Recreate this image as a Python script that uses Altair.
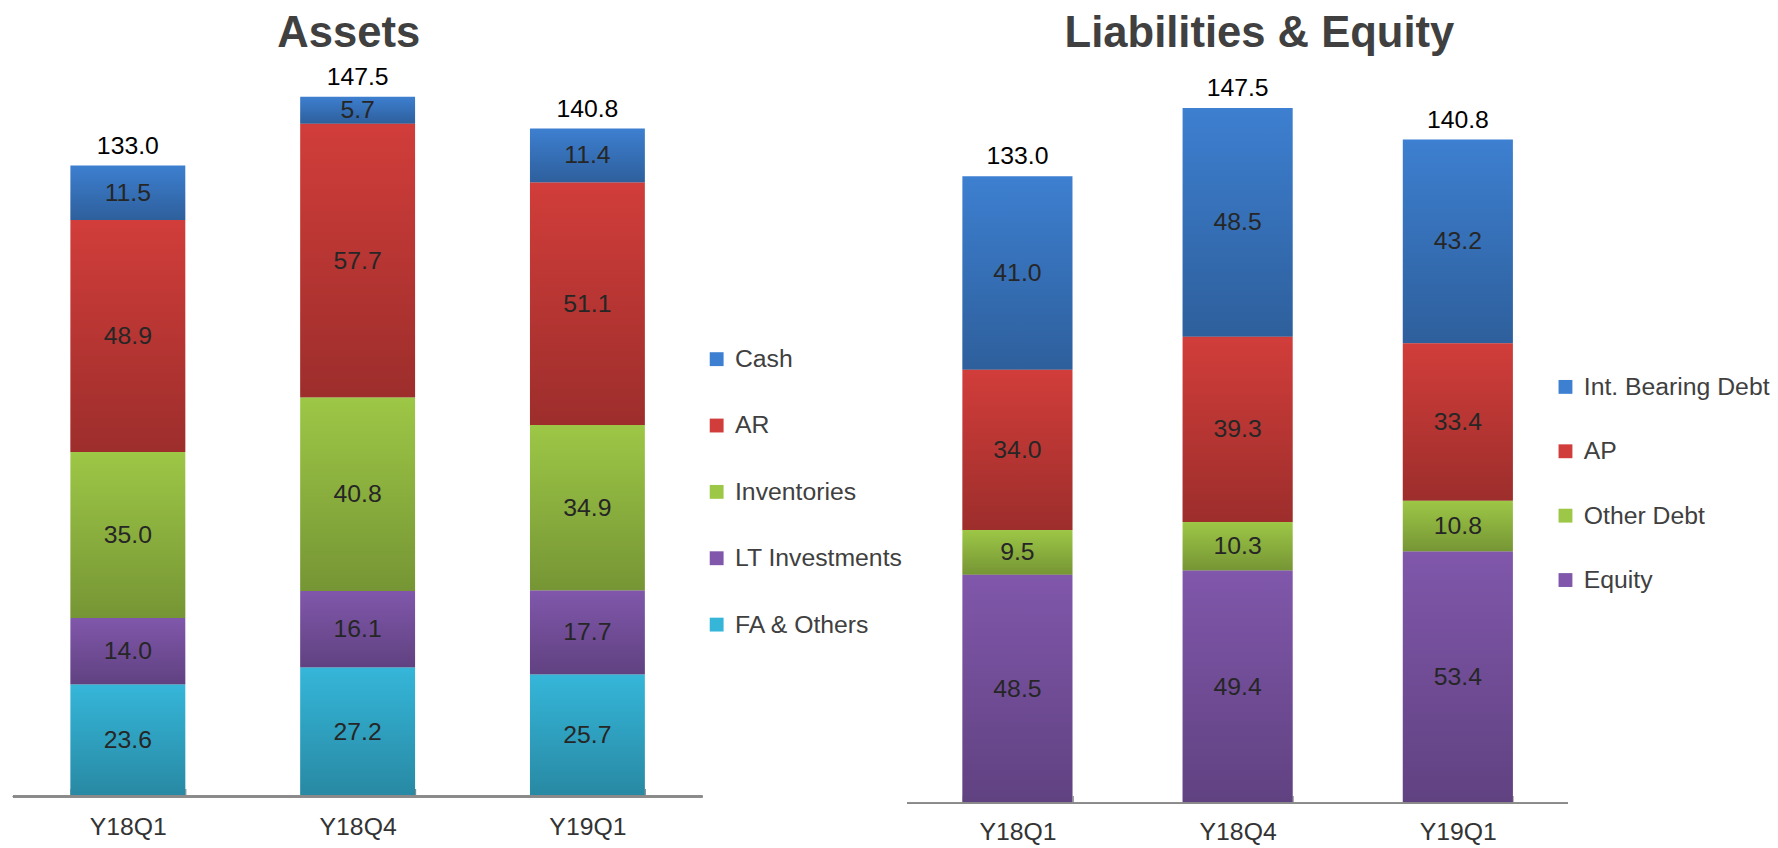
import altair as alt
import pandas as pd

periods = ["Y18Q1", "Y18Q4", "Y19Q1"]

asset_cats = ["Cash", "AR", "Inventories", "LT Investments", "FA & Others"]
cash = [11.5, 5.7, 11.4]
ar = [48.9, 57.7, 51.1]
inventories = [35.0, 40.8, 34.9]
lt_investments = [14.0, 16.1, 17.7]
fa_others = [23.6, 27.2, 25.7]

liab_cats = ["Int. Bearing Debt", "AP", "Other Debt", "Equity"]
int_bearing_debt = [41.0, 48.5, 43.2]
ap = [34.0, 39.3, 33.4]
other_debt = [9.5, 10.3, 10.8]
equity = [48.5, 49.4, 53.4]

asset_colors = ["#3d7fd0", "#d13d3a", "#9dc746", "#8057ab", "#35b6d9"]
liab_colors = ["#3d7fd0", "#d13d3a", "#9dc746", "#8057ab"]

FONT = "Liberation Sans"


def build_df(cats, series):
    rows = []
    n = len(cats)
    for i, (c, vals) in enumerate(zip(cats, series)):
        for p, v in zip(periods, vals):
            rows.append({"period": p, "category": c, "value": v, "order": n - i})
    return pd.DataFrame(rows)


assets_df = build_df(asset_cats, [cash, ar, inventories, lt_investments, fa_others])
liab_df = build_df(liab_cats, [int_bearing_debt, ap, other_debt, equity])


def panel(df, cats, colors, title, width, height, ymax, legend_x, legend_y,
          row_pad, title_dx, label_pad):
    x = alt.X("period:N", sort=periods,
              scale=alt.Scale(paddingInner=0.5, paddingOuter=0.25),
              axis=alt.Axis(title=None, labelAngle=0, domain=False, ticks=True,
                            tickBand="extent", tickSize=8, offset=-8,
                            tickColor="#8a8a8a", tickWidth=1.2,
                            labelFontSize=25, labelColor="#333333",
                            labelFont=FONT, labelPadding=label_pad, grid=False))
    yscale = alt.Scale(domain=[0, ymax], nice=False, zero=True)
    base = alt.Chart(df)
    bars = base.mark_bar().encode(
        x=x,
        y=alt.Y("value:Q", stack="zero", scale=yscale, axis=None),
        color=alt.Color("category:N",
                        scale=alt.Scale(domain=cats, range=colors),
                        legend=alt.Legend(title=None, orient="none",
                                          legendX=legend_x, legendY=legend_y,
                                          symbolType="square", symbolSize=196,
                                          symbolStrokeWidth=0, labelLimit=400,
                                          labelFontSize=25, labelFont=FONT,
                                          labelColor="#404040", labelOffset=6,
                                          rowPadding=row_pad)),
        order=alt.Order("order:Q", sort="ascending"),
    )
    shade = base.mark_bar(
        color=alt.Gradient(
            gradient="linear", x1=0, x2=0, y1=0, y2=1,
            stops=[alt.GradientStop(color="rgba(0,0,0,0)", offset=0),
                   alt.GradientStop(color="rgba(0,0,0,0.25)", offset=1)])
    ).encode(
        x=x,
        y=alt.Y("value:Q", stack="zero", scale=yscale, axis=None),
        detail="category:N",
        order=alt.Order("order:Q", sort="ascending"),
    )
    seg_text = base.transform_window(
        cum="sum(value)", groupby=["period"],
        sort=[alt.SortField("order", order="ascending")]
    ).transform_calculate(
        mid="datum.cum - datum.value / 2"
    ).mark_text(fontSize=25, font=FONT, color="#262626", baseline="middle").encode(
        x=x,
        y=alt.Y("mid:Q", scale=yscale, axis=None),
        text=alt.Text("value:Q", format=".1f"),
    )
    totals = base.transform_aggregate(
        total="sum(value)", groupby=["period"]
    ).mark_text(fontSize=25, font=FONT, color="#000000", baseline="middle",
                dy=-20).encode(
        x=x,
        y=alt.Y("total:Q", scale=yscale, axis=None),
        text=alt.Text("total:Q", format=".1f"),
    )
    baseline = base.mark_rule(color="#8a8a8a", strokeWidth=1.5).encode(
        y=alt.datum(0)
    )
    return alt.layer(bars, shade, seg_text, totals, baseline).properties(
        width=width, height=height,
        title=alt.TitleParams(title, fontSize=44, fontWeight="bold",
                              color="#404040", font=FONT, anchor="middle",
                              frame="group", baseline="bottom",
                              offset=-38, dx=title_dx),
    )


left = panel(assets_df, asset_cats, asset_colors, "Assets", 696, 742, 742 / 4.79,
             698, 288, 41, -9, 18)
right = panel(liab_df, liab_cats, liab_colors, "Liabilities & Equity", 667, 749,
              749 / 4.76, 652, 316, 39, 22, 16)

chart = alt.hconcat(
    left, right, spacing=3,
    padding={"left": 4, "top": 0, "right": 0, "bottom": 0},
).resolve_scale(
    color="independent", x="independent", y="independent"
).configure_view(stroke=None)

chart.save("out.html", embed_options={"renderer": "svg", "actions": False})
